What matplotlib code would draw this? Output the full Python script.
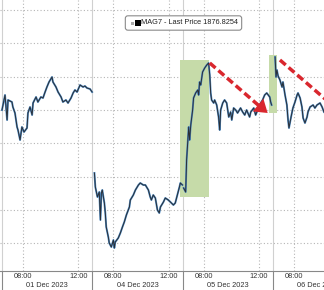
import matplotlib
matplotlib.use("Agg")
import matplotlib.pyplot as plt
import matplotlib.transforms as mtransforms
from matplotlib.patches import Rectangle

plt.rcParams['font.family'] = ['Liberation Sans', 'DejaVu Sans']

# Intraday MAG7 prices, one list per trading day (clock time, price)
day_names = ['01 Dec 2023', '04 Dec 2023', '05 Dec 2023', '06 Dec 2023']
tick_times = ['08:00', '12:00']

d1_time = ['06:30', '06:43', '06:52', '06:56', '07:13', '07:17', '07:26', '07:35', '07:39', '07:48',
           '07:56', '08:05', '08:18', '08:22', '08:31', '08:40', '08:44', '08:57', '09:05', '09:18',
           '09:27', '09:36', '09:44', '09:53', '10:06', '10:10', '10:23', '10:32', '10:45', '10:53',
           '11:06', '11:15', '11:28', '11:37', '11:45', '11:54', '12:07', '12:20', '12:28', '12:37',
           '12:50', '12:59']
d1_price = [1880.0, 1884.5, 1877.0, 1883.0, 1882.4, 1880.9, 1879.1, 1874.9, 1874.0, 1871.0,
            1874.9, 1873.4, 1874.6, 1879.1, 1880.9, 1878.5, 1882.1, 1883.9, 1882.4, 1883.9,
            1883.6, 1885.4, 1886.9, 1888.4, 1889.9, 1888.4, 1886.9, 1885.4, 1883.9, 1882.4,
            1883.0, 1882.1, 1883.6, 1885.1, 1886.0, 1885.4, 1887.5, 1886.9, 1887.2, 1886.6,
            1886.3, 1885.4]

d2_time = ['06:39', '06:43', '06:52', '07:00', '07:05', '07:09', '07:13', '07:22', '07:26', '07:30',
           '07:39', '07:43', '07:52', '08:01', '08:05', '08:09', '08:22', '08:31', '08:40', '08:48',
           '08:57', '09:10', '09:14', '09:27', '09:36', '09:49', '09:57', '10:10', '10:19', '10:32',
           '10:40', '10:45', '10:53', '11:02', '11:11', '11:19', '11:24', '11:37', '11:45', '11:58',
           '12:07', '12:20', '12:28', '12:37', '12:46', '12:50', '12:59']
d2_price = [1861.1, 1856.9, 1853.9, 1855.4, 1847.0, 1855.1, 1856.0, 1852.1, 1849.1, 1844.9,
            1841.9, 1840.1, 1838.9, 1841.0, 1838.6, 1840.4, 1841.6, 1843.1, 1844.9, 1846.4,
            1848.5, 1850.9, 1853.0, 1854.5, 1856.0, 1857.5, 1858.1, 1857.5, 1857.5, 1856.0,
            1853.9, 1853.0, 1854.5, 1853.6, 1850.0, 1849.1, 1850.9, 1852.4, 1853.6, 1853.0,
            1852.4, 1851.5, 1852.1, 1854.5, 1856.9, 1858.1, 1857.5]

d3_time = ['06:34', '06:43', '06:47', '06:56', '07:00', '07:05', '07:13', '07:17', '07:26', '07:35',
           '07:39', '07:43', '07:48', '07:56', '08:05', '08:14', '08:22', '08:27', '08:31', '08:35',
           '08:44', '08:48', '08:57', '09:05', '09:10', '09:14', '09:23', '09:31', '09:40', '09:49',
           '09:57', '10:02', '10:10', '10:19', '10:27', '10:40', '10:49', '10:58', '11:06', '11:19',
           '11:24', '11:37', '11:45', '11:54', '12:07', '12:15', '12:24', '12:33', '12:46', '12:50',
           '12:54']
d3_price = [1856.6, 1855.4, 1865.0, 1874.9, 1871.0, 1875.5, 1880.0, 1883.6, 1885.1, 1886.0,
            1884.5, 1888.4, 1887.5, 1891.4, 1892.6, 1893.5, 1894.1, 1890.5, 1885.1, 1883.0,
            1882.1, 1883.0, 1881.5, 1877.9, 1874.0, 1880.0, 1882.1, 1883.0, 1882.1, 1877.9,
            1879.4, 1877.0, 1880.6, 1880.0, 1879.1, 1880.6, 1879.4, 1878.5, 1880.0, 1877.9,
            1879.4, 1880.6, 1878.5, 1880.0, 1882.1, 1883.0, 1884.5, 1885.1, 1883.9, 1882.4,
            1881.5]

d4_time = ['06:39', '06:43', '06:47', '06:52', '07:00', '07:09', '07:13', '07:22', '07:30', '07:35',
           '07:39', '07:48', '07:56', '08:05', '08:14', '08:18', '08:27', '08:35', '08:40', '08:48',
           '08:57', '09:01', '09:10', '09:23', '09:31', '09:40', '09:53', '10:02', '10:10']
d4_price = [1895.9, 1889.9, 1892.0, 1890.2, 1889.0, 1886.9, 1888.4, 1884.5, 1881.5, 1877.0,
            1874.6, 1877.9, 1880.6, 1882.4, 1884.5, 1885.1, 1883.6, 1880.9, 1877.6, 1876.1,
            1877.9, 1879.4, 1880.9, 1881.5, 1880.6, 1881.5, 1882.1, 1880.9, 1879.4]

days = [(d1_time, d1_price), (d2_time, d2_price), (d3_time, d3_price), (d4_time, d4_price)]

# highlighted boxes: (day, start, day, end, low, high)
boxes = [(1, '12:50', 2, '08:22', 1853.9, 1895.0),
         (2, '12:41', 3, '06:47', 1879.1, 1896.5)]

# red arrows: (day, time, price) start -> end
arrow1 = [(2, '08:27', 1894.1), (2, '12:04', 1881.0), (2, '12:37', 1879.1)]
arrow2 = [(3, '07:00', 1895.0), (3, '10:40', 1881.8)]

legend_label = 'MAG7 - Last Price 1876.8254'


def to_x(d, hhmm):
    h, m = hhmm.split(':')
    return d * 6.5 + int(h) + int(m) / 60 - 6.5


fig = plt.figure(figsize=(3.24, 2.90), dpi=100)
ax = fig.add_axes([0, 19 / 290, 1, 271 / 290])

red = '#d9272e'
green = '#c6dba9'

for (d0, t0, d1, t1, lo, hi) in boxes:
    x0 = to_x(d0, t0)
    x1 = to_x(d1, t1)
    ax.add_patch(Rectangle((x0, lo), x1 - x0, hi - lo, facecolor=green, edgecolor='none', zorder=1))

for d, (times, prices) in enumerate(days):
    xs = [to_x(d, t) for t in times]
    ax.plot(xs, prices, color='#4f8cc6', lw=1.4, zorder=3)
    ax.plot(xs, prices, color='#2a2f36', lw=0.7, zorder=4)

# dashed red arrows
xs = [to_x(d, t) for d, t, p in arrow1[:2]]
ys = [p for d, t, p in arrow1[:2]]
ax.plot(xs, ys, color=red, lw=2.5, dashes=(2.2, 1.1), solid_capstyle='butt', zorder=5)
ax.annotate('', xy=(to_x(arrow1[2][0], arrow1[2][1]), arrow1[2][2]),
            xytext=(to_x(arrow1[1][0], arrow1[1][1]), arrow1[1][2]),
            arrowprops=dict(arrowstyle='-|>,head_length=0.9,head_width=0.6', color=red, lw=0,
                            shrinkA=0, shrinkB=0, mutation_scale=10), zorder=5)
xs = [to_x(d, t) for d, t, p in arrow2]
ys = [p for d, t, p in arrow2]
ax.plot(xs, ys, color=red, lw=2.5, dashes=(2.2, 1.1), solid_capstyle='butt', zorder=5)

# grid
for y in range(1840, 1911, 10):
    ax.axhline(y, color='#b5b5b5', lw=0.8, ls=(0, (1, 2)), zorder=0)
for d in range(4):
    for t in tick_times:
        ax.axvline(to_x(d, t), color='#b5b5b5', lw=0.8, ls=(0, (1, 2)), zorder=0)
    ax.axvline(d * 6.5, color='#d0d0d0', lw=0.8, zorder=0)

for s in ['top', 'right', 'left']:
    ax.spines[s].set_visible(False)
ax.spines['bottom'].set_color('#888888')
ax.spines['bottom'].set_linewidth(0.8)
ax.set_yticks([])

ax.set_xticks([d * 6.5 for d in range(4)])
ax.set_xticklabels([])
ax.tick_params(axis='x', which='major', length=14, width=0.8, color='#888888', direction='out')
ax.set_xticks([to_x(d, t) for d in range(4) for t in tick_times], minor=True)
ax.set_xticklabels([t for d in range(4) for t in tick_times], minor=True)
ax.tick_params(axis='x', which='minor', length=0, pad=1.5, labelsize=5.3, labelcolor='#333333')

# limits after the ticks, so the ticks don't widen the view
ax.set_xlim(-0.144, 23.17)
ax.set_ylim(1831.7, 1913.0)

trans = mtransforms.blended_transform_factory(ax.transData, ax.transAxes)
for d, name in enumerate(day_names):
    ax.text(d * 6.5 + 3.25, -0.052, name, transform=trans, ha='center', va='center',
            fontsize=5.3, color='#333333', clip_on=False)

# legend box
fig.text(129 / 324, 1 - 23 / 290, '      ' + legend_label, ha='left', va='center', fontsize=5.3,
         color='#222222',
         bbox=dict(boxstyle='round,pad=0.5,rounding_size=0.35', fc='white', ec='#8a8a8a', lw=0.8))
fig.patches.append(Rectangle((131 / 324, 1 - 25 / 290), 3 / 324, 3 / 290,
                             transform=fig.transFigure, facecolor='#aaaaaa', edgecolor='none', zorder=10))
fig.patches.append(Rectangle((135 / 324, 1 - 26 / 290), 6 / 324, 6 / 290,
                             transform=fig.transFigure, facecolor='black', edgecolor='none', zorder=10))

fig.savefig('out.png', dpi=100)
